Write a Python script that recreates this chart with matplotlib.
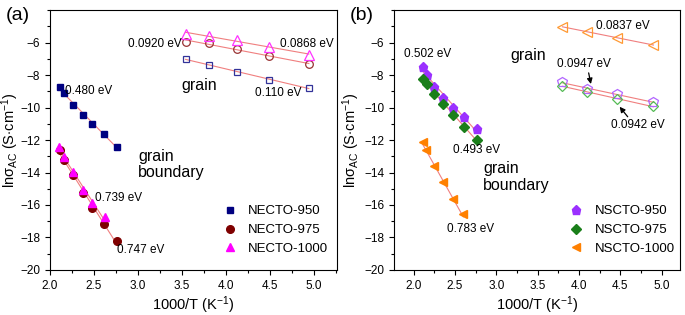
import numpy as np
import matplotlib
matplotlib.use("Agg")
import matplotlib.pyplot as plt
from matplotlib.ticker import MultipleLocator

plt.rcParams['font.family'] = ['Liberation Sans', 'DejaVu Sans']
plt.rcParams['mathtext.fontset'] = 'custom'
plt.rcParams['mathtext.rm'] = 'Liberation Sans'
plt.rcParams['mathtext.it'] = 'Liberation Sans'

# ---- panel (a): NECTO ----
gb_x_a = [2.11, 2.16, 2.26, 2.37, 2.48, 2.61, 2.76]
gb_950_a = [-8.76, -9.10, -9.84, -10.43, -10.99, -11.62, -12.40]
gb_975_a = [-12.64, -13.26, -14.18, -15.24, -16.18, -17.20, -18.20]
gb_x_1000_a = [2.10, 2.16, 2.26, 2.37, 2.48, 2.62]
gb_1000_a = [-12.44, -13.06, -13.98, -15.05, -15.85, -16.77]

gr_x_a = [3.54, 3.81, 4.12, 4.49, 4.94]
gr_950_a = [-7.02, -7.37, -7.80, -8.29, -8.80]
gr_975_a = [-5.94, -6.04, -6.37, -6.83, -7.33]
gr_1000_a = [-5.45, -5.58, -5.85, -6.25, -6.76]

# ---- panel (b): NSCTO ----
gb_x_b = [2.11, 2.16, 2.25, 2.36, 2.48, 2.61, 2.76]
gb_950_b = [-7.49, -7.98, -8.76, -9.43, -10.03, -10.56, -11.31]
gb_975_b = [-8.25, -8.55, -9.17, -9.78, -10.44, -11.17, -11.99]
gb_x_1000_b = [2.11, 2.15, 2.25, 2.35, 2.47, 2.60]
gb_1000_b = [-12.13, -12.64, -13.63, -14.59, -15.65, -16.57]

gr_x_b = [3.80, 4.10, 4.46, 4.90]
gr_950_b = [-8.45, -8.86, -9.17, -9.68]
gr_975_b = [-8.66, -9.07, -9.47, -9.93]
gr_1000_b = [-5.04, -5.33, -5.69, -6.16]

line_c = '#f07f7f'

fig = plt.figure(figsize=(6.85, 3.15), dpi=100)
ax1 = fig.add_axes([0.073, 0.143, 0.419, 0.825])
ax2 = fig.add_axes([0.575, 0.143, 0.4175, 0.825])


def fit_line(ax, x, y):
    x = np.asarray(x)
    k, b = np.polyfit(x, y, 1)
    xx = np.array([x.min(), x.max()])
    ax.plot(xx, k * xx + b, color=line_c, lw=0.8, zorder=1)


def style(ax, xlim, ylab_x):
    ax.set_xlim(*xlim)
    ax.set_ylim(-20, -4)
    ax.xaxis.set_major_locator(MultipleLocator(0.5))
    ax.xaxis.set_minor_locator(MultipleLocator(0.25))
    ax.yaxis.set_major_locator(MultipleLocator(2))
    ax.yaxis.set_minor_locator(MultipleLocator(1))
    ax.set_yticks(np.arange(-20, -5, 2))
    ax.tick_params(which='both', direction='out', labelsize=8.5, width=0.8)
    ax.tick_params(which='major', length=3.5)
    ax.tick_params(which='minor', length=2)
    ax.xaxis.set_major_formatter(matplotlib.ticker.FormatStrFormatter('%.1f'))
    for s in ax.spines.values():
        s.set_linewidth(0.8)
    ax.set_xlabel(r'1000/T (K$^{-1}$)', fontsize=10.5, labelpad=2)
    ax.set_ylabel(r'ln$\sigma_{AC}$ (S$\cdot$cm$^{-1}$)', fontsize=10.5)
    ax.yaxis.set_label_coords(ylab_x, 0.5)


leg_kw = dict(loc='upper left', frameon=False, fontsize=9.5, handlelength=1.0,
              handletextpad=0.9, labelspacing=0.5, borderaxespad=0)

# panel (a)
for x, y in [(gb_x_a, gb_950_a), (gb_x_a, gb_975_a), (gb_x_1000_a, gb_1000_a),
             (gr_x_a, gr_950_a), (gr_x_a, gr_975_a), (gr_x_a, gr_1000_a)]:
    fit_line(ax1, x, y)
ax1.plot(gb_x_a, gb_950_a, 's', color='#000080', ms=5, ls='none', label='NECTO-950')
ax1.plot(gb_x_a, gb_975_a, 'o', color='#7f0000', ms=5.5, ls='none', label='NECTO-975')
ax1.plot(gb_x_1000_a, gb_1000_a, '^', color='#ff00ff', ms=6, ls='none', label='NECTO-1000')
ax1.plot(gr_x_a, gr_950_a, 's', mfc='none', mec='#333399', ms=5, mew=0.9, ls='none')
ax1.plot(gr_x_a, gr_975_a, 'o', mfc='none', mec='#993333', ms=5.5, mew=0.9, ls='none')
ax1.plot(gr_x_a, gr_1000_a, '^', mfc='none', mec='#ff33ff', ms=6.5, mew=0.9, ls='none')
style(ax1, (2.0, 5.26), -0.1)

ax1.text(2.17, -9.0, '0.480 eV', fontsize=8.5, va='center')
ax1.text(3.5, -6.1, '0.0920 eV', fontsize=8.5, va='center', ha='right')
ax1.text(4.61, -6.1, '0.0868 eV', fontsize=8.5, va='center')
ax1.text(4.33, -9.1, '0.110 eV', fontsize=8.5, va='center')
ax1.text(3.49, -8.66, 'grain', fontsize=11.5, va='center')
ax1.text(3.0, -13.5, 'grain\nboundary', fontsize=11.5, va='center', linespacing=1.1)
ax1.text(2.51, -15.6, '0.739 eV', fontsize=8.5, va='center')
ax1.text(2.76, -18.78, '0.747 eV', fontsize=8.5, va='center')
ax1.legend(bbox_to_anchor=(0.585, 0.27), **leg_kw)
fig.text(0.008, 0.935, '(a)', fontsize=14)

# panel (b)
for x, y in [(gb_x_b, gb_950_b), (gb_x_b, gb_975_b), (gb_x_1000_b, gb_1000_b),
             (gr_x_b, gr_950_b), (gr_x_b, gr_975_b), (gr_x_b, gr_1000_b)]:
    fit_line(ax2, x, y)
ax2.plot(gb_x_b, gb_950_b, 'p', color='#9b30ff', ms=6.5, ls='none', label='NSCTO-950')
ax2.plot(gb_x_b, gb_975_b, 'D', color='#1a7f1a', ms=5, ls='none', label='NSCTO-975')
ax2.plot(gb_x_1000_b, gb_1000_b, '<', color='#ff8000', ms=6, ls='none', label='NSCTO-1000')
ax2.plot(gr_x_b, gr_950_b, 'p', mfc='none', mec='#b266ff', ms=7, mew=0.9, ls='none')
ax2.plot(gr_x_b, gr_975_b, 'D', mfc='none', mec='#55bb55', ms=5.5, mew=0.9, ls='none')
ax2.plot(gr_x_b, gr_1000_b, '<', mfc='none', mec='#ff9933', ms=7, mew=0.9, ls='none')
style(ax2, (1.76, 5.22), -0.11)

ax2.text(1.88, -6.71, '0.502 eV', fontsize=8.5, va='center')
ax2.text(3.17, -6.82, 'grain', fontsize=11.5, va='center')
ax2.text(4.2, -4.98, '0.0837 eV', fontsize=8.5, va='center')
ax2.text(3.73, -7.33, '0.0947 eV', fontsize=8.5, va='center')
ax2.annotate('', xy=(4.15, -8.72), xytext=(4.11, -7.7),
             arrowprops=dict(arrowstyle='-|>', color='black', lw=0.9, mutation_scale=8))
ax2.text(4.39, -11.1, '0.0942 eV', fontsize=8.5, va='center')
ax2.annotate('', xy=(4.47, -9.82), xytext=(4.61, -10.7),
             arrowprops=dict(arrowstyle='-|>', color='black', lw=0.9, mutation_scale=8))
ax2.text(2.48, -12.64, '0.493 eV', fontsize=8.5, va='center')
ax2.text(2.84, -14.28, 'grain\nboundary', fontsize=11.5, va='center', linespacing=1.1)
ax2.text(2.40, -17.45, '0.783 eV', fontsize=8.5, va='center')
ax2.legend(bbox_to_anchor=(0.597, 0.27), **leg_kw)
fig.text(0.51, 0.935, '(b)', fontsize=14)

fig.savefig('out.png', dpi=100)
